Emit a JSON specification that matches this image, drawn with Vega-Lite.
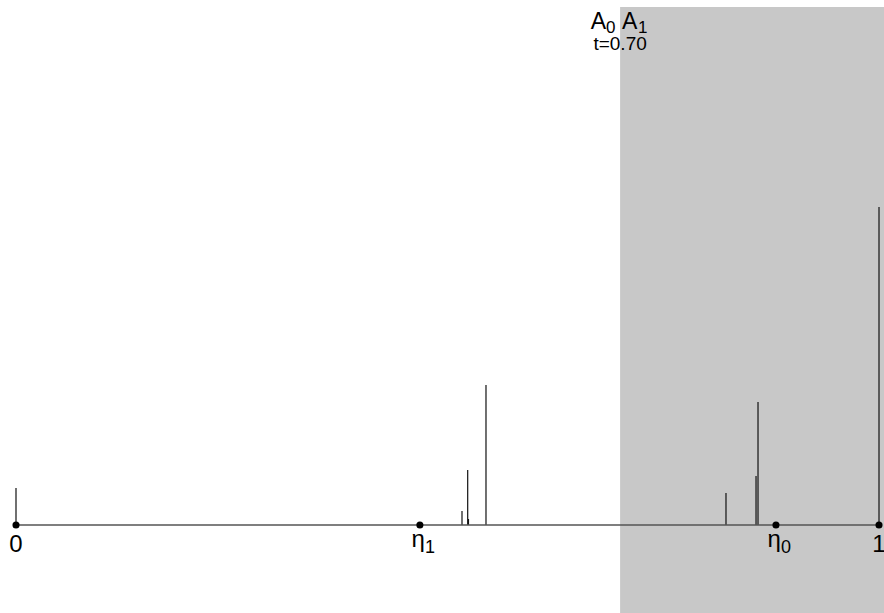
{
  "$schema": "https://vega.github.io/schema/vega-lite/v6.json",
  "width": 868,
  "height": 606,
  "autosize": "none",
  "padding": {"left": 16, "top": 7, "right": 0, "bottom": 0},
  "background": "white",
  "config": {"view": {"stroke": null}, "text": {"font": "Liberation Sans"}},
  "datasets": {
    "spikes": [
      {"pos": 0.0, "h": 37},
      {"pos": 0.5168, "h": 14},
      {"pos": 0.5234, "h": 55},
      {"pos": 0.5243, "h": 6},
      {"pos": 0.5446, "h": 140},
      {"pos": 0.8227, "h": 32},
      {"pos": 0.8575, "h": 49},
      {"pos": 0.8598, "h": 123},
      {"pos": 1.0, "h": 318}
    ],
    "marks": [
      {"pos": 0.0, "label": "0", "kind": "num", "sub": ""},
      {"pos": 0.468, "label": "η", "kind": "eta", "sub": "1"},
      {"pos": 0.8806, "label": "η", "kind": "eta", "sub": "0"},
      {"pos": 1.0, "label": "1", "kind": "num", "sub": ""}
    ],
    "state": [{"t": 0.7, "label": "t=0.70"}],
    "base": [{"a": 0, "b": 1}]
  },
  "layer": [
    {
      "data": {"name": "state"},
      "mark": {"type": "rect", "color": "#c8c8c8"},
      "encoding": {
        "x": {"field": "t", "type": "quantitative", "scale": {"domain": [0, 1.00579], "nice": false, "zero": false}, "axis": null},
        "x2": {"value": "width"}
      }
    },
    {
      "data": {"name": "spikes"},
      "mark": {"type": "rule", "color": "#111111", "strokeWidth": 1.2},
      "encoding": {
        "x": {"field": "pos", "type": "quantitative"},
        "y": {"field": "h", "type": "quantitative", "scale": {"domain": [-88, 518], "nice": false, "zero": false}, "axis": null},
        "y2": {"datum": 0}
      }
    },
    {
      "data": {"name": "base"},
      "mark": {"type": "rule", "color": "#555555", "strokeWidth": 1.4},
      "encoding": {
        "x": {"field": "a", "type": "quantitative"},
        "x2": {"field": "b"},
        "y": {"datum": 0, "type": "quantitative"}
      }
    },
    {
      "data": {"name": "marks"},
      "mark": {"type": "circle", "color": "black", "opacity": 1, "size": 50},
      "encoding": {
        "x": {"field": "pos", "type": "quantitative"},
        "y": {"datum": 0, "type": "quantitative"}
      }
    },
    {
      "data": {"name": "marks"},
      "transform": [{"filter": "datum.kind === 'num'"}],
      "mark": {"type": "text", "fontSize": 24, "align": "center", "baseline": "alphabetic", "dy": 27, "color": "black"},
      "encoding": {
        "x": {"field": "pos", "type": "quantitative"},
        "y": {"datum": 0, "type": "quantitative"},
        "text": {"field": "label", "type": "nominal"}
      }
    },
    {
      "data": {"name": "marks"},
      "transform": [{"filter": "datum.kind === 'eta'"}],
      "mark": {"type": "text", "fontSize": 24, "align": "right", "baseline": "alphabetic", "dx": 5, "dy": 22, "color": "black"},
      "encoding": {
        "x": {"field": "pos", "type": "quantitative"},
        "y": {"datum": 0, "type": "quantitative"},
        "text": {"field": "label", "type": "nominal"}
      }
    },
    {
      "data": {"name": "marks"},
      "transform": [{"filter": "datum.kind === 'eta'"}],
      "mark": {"type": "text", "fontSize": 18, "align": "left", "baseline": "alphabetic", "dx": 5, "dy": 28, "color": "black"},
      "encoding": {
        "x": {"field": "pos", "type": "quantitative"},
        "y": {"datum": 0, "type": "quantitative"},
        "text": {"field": "sub", "type": "nominal"}
      }
    },
    {
      "data": {"name": "state"},
      "mark": {"type": "text", "fontSize": 23, "align": "right", "baseline": "alphabetic", "dx": -14, "color": "black", "text": "A"},
      "encoding": {
        "x": {"field": "t", "type": "quantitative"},
        "y": {"datum": 496, "type": "quantitative"}
      }
    },
    {
      "data": {"name": "state"},
      "mark": {"type": "text", "fontSize": 17, "align": "left", "baseline": "alphabetic", "dx": -14, "dy": 4, "color": "black", "text": "0"},
      "encoding": {
        "x": {"field": "t", "type": "quantitative"},
        "y": {"datum": 496, "type": "quantitative"}
      }
    },
    {
      "data": {"name": "state"},
      "mark": {"type": "text", "fontSize": 23, "align": "left", "baseline": "alphabetic", "dx": 2, "color": "black", "text": "A"},
      "encoding": {
        "x": {"field": "t", "type": "quantitative"},
        "y": {"datum": 496, "type": "quantitative"}
      }
    },
    {
      "data": {"name": "state"},
      "mark": {"type": "text", "fontSize": 17, "align": "left", "baseline": "alphabetic", "dx": 18, "dy": 4, "color": "black", "text": "1"},
      "encoding": {
        "x": {"field": "t", "type": "quantitative"},
        "y": {"datum": 496, "type": "quantitative"}
      }
    },
    {
      "data": {"name": "state"},
      "mark": {"type": "text", "fontSize": 19, "align": "center", "baseline": "alphabetic", "dx": 0, "color": "black"},
      "encoding": {
        "x": {"field": "t", "type": "quantitative"},
        "y": {"datum": 475, "type": "quantitative"},
        "text": {"field": "label", "type": "nominal"}
      }
    }
  ]
}
